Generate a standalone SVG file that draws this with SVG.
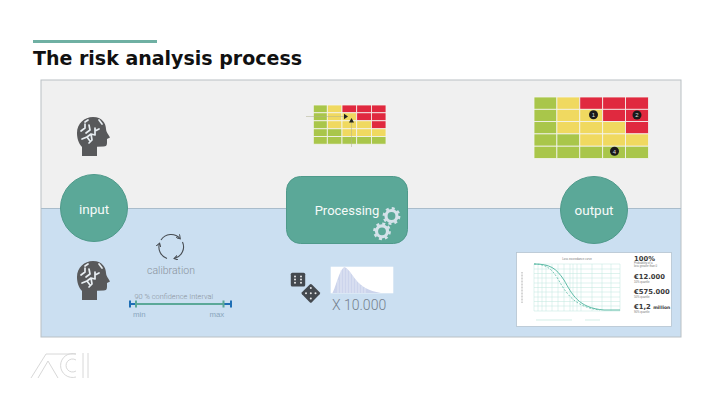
<svg xmlns="http://www.w3.org/2000/svg" xmlns:xlink="http://www.w3.org/1999/xlink" width="720" height="404" viewBox="0 0 720 404">
<style>
text{font-family:"Liberation Sans",Arial,sans-serif}
.g{fill:#a9c64a}.y{fill:#f0d960}.r{fill:#e0293f}
.cell{stroke:#f4f4f0;stroke-width:.8}
.node{fill:#5ba898;stroke:#4f9a8b;stroke-width:1}
.nl{fill:#f6faf9;font-family:Roboto,"Liberation Sans",sans-serif;font-weight:400;text-anchor:middle}
.mut{fill:#8a929c;font-family:Roboto,"Liberation Sans",sans-serif;font-weight:300}
.grid{stroke:#bfe6dc;stroke-width:.5;fill:none}
.big{fill:#3a3a3a;font-weight:bold;font-size:6.800px;font-family:"DejaVu Sans",sans-serif}
.tiny{fill:#777;font-size:2.800px}
.logo{fill:none;stroke:#d8d8d8;stroke-width:1}
</style>
<defs>
<g id="head">
<path fill="#58595b" d="M5 39V30C1.500 26.500 0 21 0 16C0 6.500 7.500 0 16 0C25 0 29 6.500 29 12C29 14.500 31 17 33 20.500L30 22V26C30 28.500 29 29.500 26.500 29.500L20 29.800V39Z"/>
<path fill="none" stroke="#e8eef2" stroke-width="1.700" stroke-linecap="round" stroke-linejoin="round" d="M4 14L8 11V7M9 16L13 13L12 8M5 22L10 20L13 24M10 20L14 17L18 18V11M18 14L22 12M14 17L15 23L12 26M22 3L25 7M8 5L11 3"/>
</g>
<g id="gear" fill="none" stroke="#d5e2ea">
<circle r="5.500" stroke-width="3.200"/>
<circle r="7.700" stroke-width="2.400" stroke-dasharray="3 3.050"/>
</g>
<marker id="cyc" markerWidth="5" markerHeight="5" refX="3.500" refY="2.500" orient="auto" markerUnits="userSpaceOnUse"><path d="M0 0L4 2.500L0 5" fill="none" stroke="#474c52" stroke-width="1"/></marker>
</defs>
<rect width="720" height="404" fill="#fff"/>
<rect x="33" y="40" width="124" height="3" fill="#6fb0a3"/>
<text x="33" y="64.500" font-size="19" font-weight="bold" fill="#111" style="font-family:'DejaVu Sans',Verdana,sans-serif">The risk analysis process</text>

<g id="panel">
<rect x="41" y="80" width="640" height="128.500" fill="#f0f0f0"/>
<rect x="41" y="208.500" width="640" height="128.500" fill="#cbdff1"/>
<rect x="41" y="80" width="640" height="257" fill="none" stroke="#b9c0c4" stroke-width="1"/>
<line x1="41" y1="208.500" x2="681" y2="208.500" stroke="#a9bccb" stroke-width="1"/>
</g>

<g id="connectors"></g>

<g id="head-top"><use xlink:href="#head" x="77" y="117"/></g>
<g id="head-bottom"><use xlink:href="#head" x="77" y="261"/></g>

<g id="input"><circle class="node" cx="94" cy="208" r="33.500"/><text class="nl" x="94" y="213.500" font-size="13.500">input</text></g>
<g id="processing">
<rect class="node" x="286.500" y="176.500" width="121" height="67" rx="14"/>
<text class="nl" x="347" y="215" font-size="13">Processing</text>
<use xlink:href="#gear" x="391.500" y="216"/><use xlink:href="#gear" x="382" y="231.300"/>
</g>
<g id="output"><circle class="node" cx="594" cy="210" r="33.500"/><text class="nl" x="594" y="215" font-size="13.500">output</text></g>

<g id="matrix-processing">
<g class="cell">
<rect class="g" x="313.300" y="105" width="14" height="7.800"/><rect class="y" x="327.300" y="105" width="14.700" height="7.800"/><rect class="r" x="342" y="105" width="14.700" height="7.800"/><rect class="r" x="356.700" y="105" width="14.700" height="7.800"/><rect class="r" x="371.400" y="105" width="14.600" height="7.800"/>
<rect class="g" x="313.300" y="112.800" width="14" height="8"/><rect class="y" x="327.300" y="112.800" width="14.700" height="8"/><rect class="y" x="342" y="112.800" width="14.700" height="8"/><rect class="r" x="356.700" y="112.800" width="14.700" height="8"/><rect class="r" x="371.400" y="112.800" width="14.600" height="8"/>
<rect class="g" x="313.300" y="120.800" width="14" height="8"/><rect class="y" x="327.300" y="120.800" width="14.700" height="8"/><rect class="y" x="342" y="120.800" width="14.700" height="8"/><rect class="y" x="356.700" y="120.800" width="14.700" height="8"/><rect class="r" x="371.400" y="120.800" width="14.600" height="8"/>
<rect class="g" x="313.300" y="128.800" width="14" height="7.800"/><rect class="g" x="327.300" y="128.800" width="14.700" height="7.800"/><rect class="y" x="342" y="128.800" width="14.700" height="7.800"/><rect class="y" x="356.700" y="128.800" width="14.700" height="7.800"/><rect class="y" x="371.400" y="128.800" width="14.600" height="7.800"/>
<rect class="g" x="313.300" y="136.600" width="14" height="7.600"/><rect class="g" x="327.300" y="136.600" width="14.700" height="7.600"/><rect class="g" x="342" y="136.600" width="14.700" height="7.600"/><rect class="g" x="356.700" y="136.600" width="14.700" height="7.600"/><rect class="g" x="371.400" y="136.600" width="14.600" height="7.600"/>
</g>
<path d="M306 116.500H345M351.500 122V147" stroke="#b0b08f" stroke-width=".5" fill="none"/>
<path d="M344 113.800L348 116.500L344 119.200ZM351.500 118L354 122.500H349Z" fill="#222"/>
</g>

<g id="matrix-output">
<g class="cell">
<rect class="g" x="534" y="97" width="22.900" height="12.300"/><rect class="y" x="556.900" y="97" width="22.900" height="12.300"/><rect class="r" x="579.800" y="97" width="22.900" height="12.300"/><rect class="r" x="602.700" y="97" width="22.900" height="12.300"/><rect class="r" x="625.600" y="97" width="22.900" height="12.300"/>
<rect class="g" x="534" y="109.300" width="22.900" height="12.300"/><rect class="y" x="556.900" y="109.300" width="22.900" height="12.300"/><rect class="y" x="579.800" y="109.300" width="22.900" height="12.300"/><rect class="r" x="602.700" y="109.300" width="22.900" height="12.300"/><rect class="r" x="625.600" y="109.300" width="22.900" height="12.300"/>
<rect class="g" x="534" y="121.600" width="22.900" height="12.300"/><rect class="y" x="556.900" y="121.600" width="22.900" height="12.300"/><rect class="y" x="579.800" y="121.600" width="22.900" height="12.300"/><rect class="y" x="602.700" y="121.600" width="22.900" height="12.300"/><rect class="r" x="625.600" y="121.600" width="22.900" height="12.300"/>
<rect class="g" x="534" y="133.900" width="22.900" height="12.300"/><rect class="g" x="556.900" y="133.900" width="22.900" height="12.300"/><rect class="y" x="579.800" y="133.900" width="22.900" height="12.300"/><rect class="y" x="602.700" y="133.900" width="22.900" height="12.300"/><rect class="y" x="625.600" y="133.900" width="22.900" height="12.300"/>
<rect class="g" x="534" y="146.200" width="22.900" height="12.300"/><rect class="g" x="556.900" y="146.200" width="22.900" height="12.300"/><rect class="g" x="579.800" y="146.200" width="22.900" height="12.300"/><rect class="g" x="602.700" y="146.200" width="22.900" height="12.300"/><rect class="g" x="625.600" y="146.200" width="22.900" height="12.300"/>
</g>
<g font-size="6" fill="#ddd" text-anchor="middle">
<circle cx="593.500" cy="114.800" r="4.500" fill="#1a1a1a"/><text x="593.500" y="117">1</text>
<circle cx="637" cy="115" r="4.500" fill="#1a1a1a"/><text x="637" y="117.200">2</text>
<circle cx="614.500" cy="151.300" r="4.500" fill="#1a1a1a"/><text x="614.500" y="153.500">4</text>
</g>
</g>

<g id="calibration">
<g fill="none" stroke="#474c52" stroke-width="1.100" marker-end="url(#cyc)">
<path d="M161 240A12 12 0 0 1 180 238.500"/>
<path d="M182.500 242A12 12 0 0 1 174.500 258.500"/>
<path d="M167 258.500A12 12 0 0 1 159.500 243.500"/>
</g>
<text class="mut" x="171" y="274" font-size="10.500" text-anchor="middle">calibration</text>
<text class="mut" x="134.500" y="298.500" font-size="7.400">90 % confidence Interval</text>
<path d="M130 304H136M224 304H231M130 300.500V307.500M231 300.500V307.500" stroke="#1f6fb5" stroke-width="2" fill="none"/>
<path d="M136 304H224M136 300.500V307.500M223.500 300.500V307.500" stroke="#5ba898" stroke-width="2" fill="none"/>
<text x="133" y="316.500" font-size="7.800" fill="#8aa6bd">min</text>
<text x="209.500" y="316.500" font-size="7.800" fill="#8aa6bd">max</text>
</g>

<g id="simulation">
<g fill="#44494f">
<rect x="290.800" y="272.800" width="14.400" height="13.600" rx="1.500"/>
<rect x="-7" y="-7" width="14" height="14" rx="1.500" transform="translate(310.800 293.300) rotate(45)"/>
</g>
<g fill="#e8e8e8">
<circle cx="295" cy="276.500" r="1"/><circle cx="301" cy="276.500" r="1"/><circle cx="295" cy="279.600" r="1"/><circle cx="301" cy="279.600" r="1"/><circle cx="295" cy="282.700" r="1"/><circle cx="301" cy="282.700" r="1"/>
<circle cx="310.800" cy="288" r="1"/><circle cx="306" cy="293.300" r="1"/><circle cx="315.500" cy="293.300" r="1"/><circle cx="310.800" cy="298.500" r="1"/><circle cx="310.800" cy="293.300" r="1"/>
</g>
<rect x="330.700" y="266.700" width="62.600" height="26.600" fill="#fff"/>
<path d="M332.500 293C336 287 339 270 344.500 267C349 269 352 275 356 280C361 286 368 291 381 293Z" fill="#ccd4ec"/>
<path d="M338 293V280M341 293V270M344 293V267M347 293V269M350 293V272M353 293V276M356 293V280M359 293V283M362 293V286M365 293V288" stroke="#e8ecf7" stroke-width=".8" fill="none"/>
<text class="mut" x="332" y="310" font-size="14" style="fill:#74808e">X 10.000</text>
</g>

<g id="chart">
<rect x="516.500" y="252.500" width="155" height="74" fill="#fff" stroke="#b5c4d0" stroke-width=".8"/>
<text class="tiny" x="577" y="260" text-anchor="middle">Loss exceedance curve</text>
<path class="grid" d="M534 264H620V311H534ZM534 269H620M534 273.500H620M534 278H620M534 283H620M534 287.500H620M534 292H620M534 297H620M534 301.500H620M534 306H620M538 264V311M542 264V311M546 264V311M552 264V311M558 264V311M564 264V311M570 264V311M573 264V311M577 264V311M581 264V311M592 264V311M602 264V311M611 264V311"/>
<path d="M534 264C550 264 556 268 564 280C572 294 578 308 604 310H620" fill="none" stroke="#5dbba6" stroke-width="1"/>
<path d="M534 264C546 264 552 269 558 279C566 293 574 307 600 310" fill="none" stroke="#5dbba6" stroke-width=".8" stroke-dasharray="2 1.500"/>
<path d="M536 320H572M585 320H600" stroke="#bfe6dc" stroke-width=".7"/>
<path d="M522 272V303" stroke="#999" stroke-width=".8" stroke-dasharray="1 .5"/>
<text x="634" y="260.500" class="big">100%</text>
<text class="tiny" x="634" y="264">Probability of a</text>
<text class="tiny" x="634" y="267.300">loss greater than 0</text>
<text x="634" y="278.500" class="big">€12.000</text>
<text class="tiny" x="634" y="282.500">10% quartile</text>
<text x="634" y="293.500" class="big">€575.000</text>
<text class="tiny" x="634" y="297.500">50% quartile</text>
<text x="634" y="309" class="big">€1,2 <tspan font-size="4.500">million</tspan></text>
<text class="tiny" x="634" y="312.500">90% quartile</text>
</g>

<g id="logo" class="logo">
<path d="M31 378L46 354H76M38 378L48 361L58 378"/>
<path d="M76 354A12 12 0 1 0 76 377M76 360A6.500 6.500 0 1 0 76 371"/>
<path d="M83 353V378M88 353V378"/>
</g>
</svg>
